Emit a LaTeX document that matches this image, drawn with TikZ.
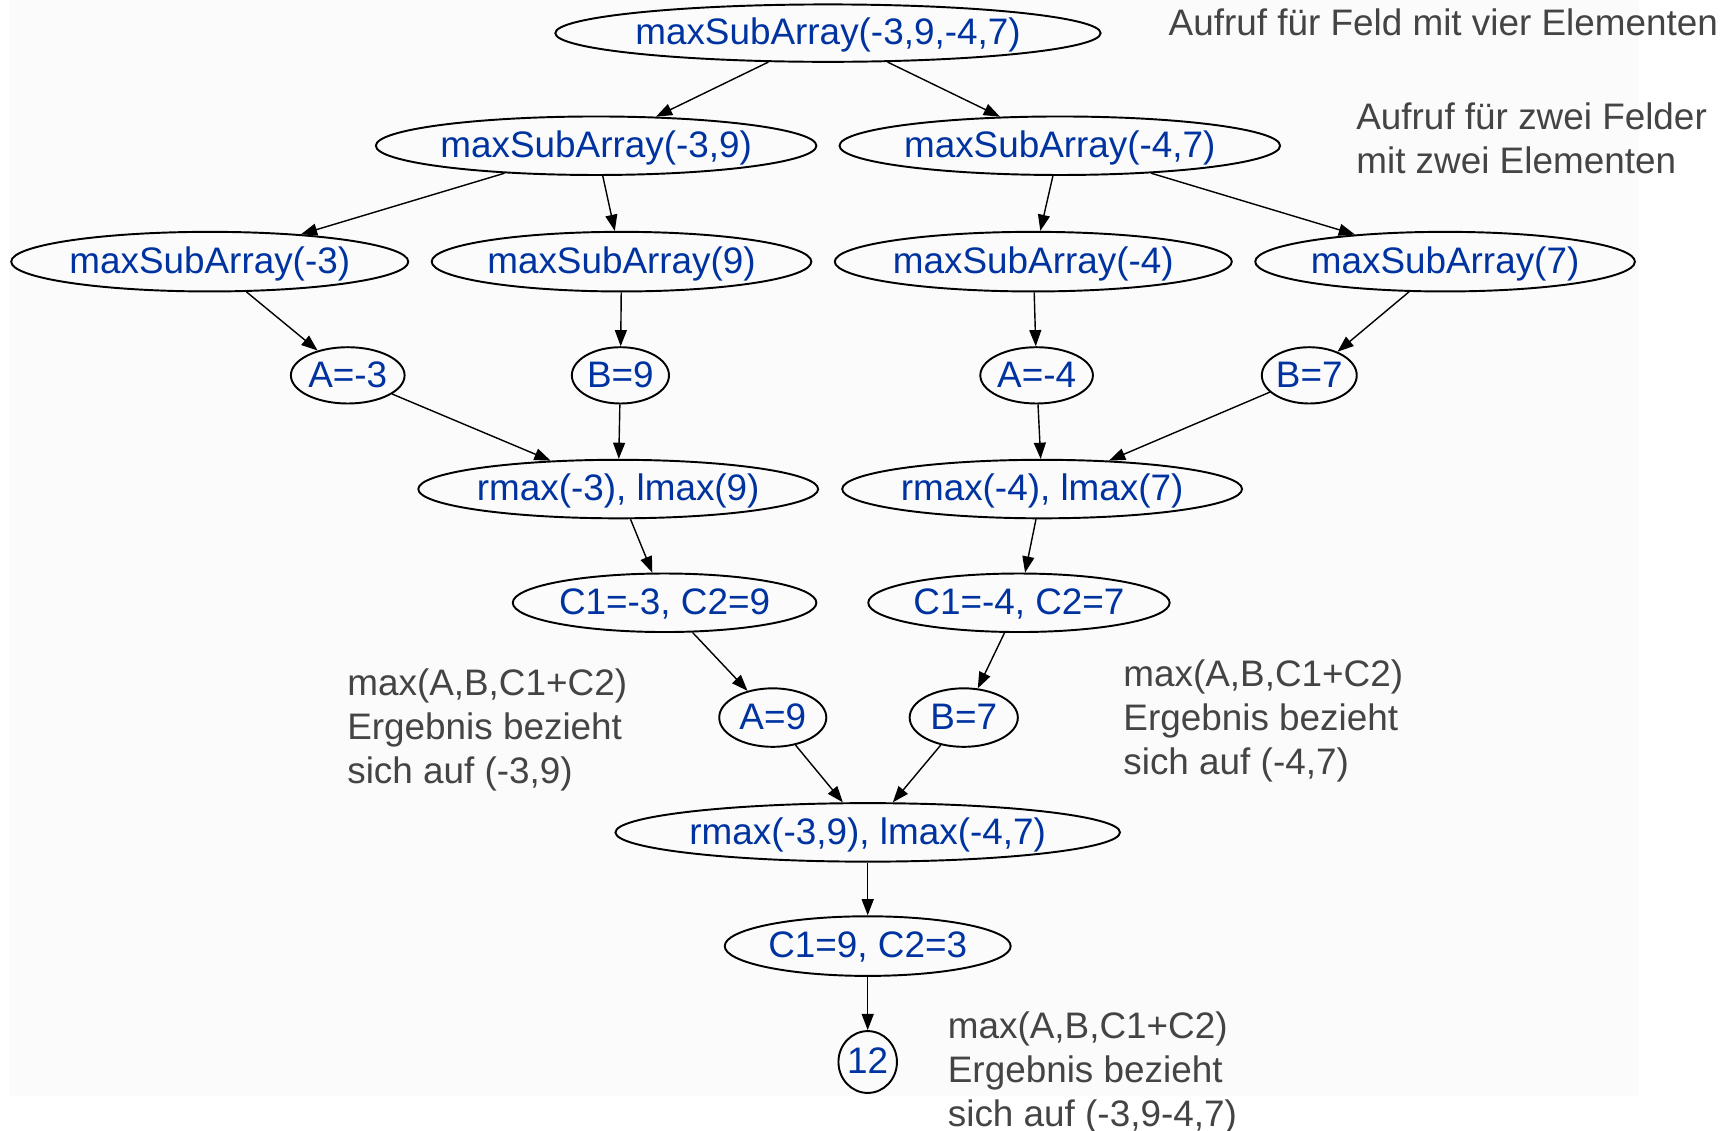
\documentclass[tikz,border=0pt]{standalone}
\usepackage{fontspec}
\setmainfont{Liberation Sans}
\usetikzlibrary{shapes.geometric,arrows.meta}
\definecolor{nodeblue}{RGB}{0,51,160}
\definecolor{notegray}{RGB}{68,68,68}
\definecolor{bgpaper}{RGB}{250,251,250}
\begin{document}
\begin{tikzpicture}[x=0.01104cm,y=-0.01104cm,
  ell/.style 2 args={ellipse, draw=black, line width=0.55pt, inner sep=0pt,
    minimum width=#1*0.01104cm, minimum height=#2*0.01104cm,
    text height=0.75em, text depth=0.08em,
    text=nodeblue, font=\fontsize{10.5}{12.6}\selectfont},
  arr/.style={draw=black, line width=0.4pt, -{Triangle[length=4.6pt,width=3.4pt]}},
  note/.style={inner sep=0pt, align=left, anchor=west, text=notegray,
    font=\fontsize{10.5}{12.6}\selectfont}]
\fill[white] (0,0) rectangle (1568,1024);
\useasboundingbox (0,0) rectangle (1568,1024);
\fill[bgpaper] (8,0) rectangle (1485,993);

% level 1
\node[ell={494}{52}] (top) at (750,30) {maxSubArray(-3,9,-4,7)};
% level 2
\node[ell={396}{53}] (l2a) at (540,132) {maxSubArray(-3,9)};
\node[ell={395}{53}] (l2b) at (960,132) {maxSubArray(-4,7)};
% level 3
\node[ell={355}{54}] (m3) at (190,237) {maxSubArray(-3)};
\node[ell={339}{54}] (m9) at (563,237) {maxSubArray(9)};
\node[ell={354}{54}] (m4) at (936,237) {maxSubArray(-4)};
\node[ell={339}{54}] (m7) at (1309,237) {maxSubArray(7)};
% level 4
\node[ell={103}{51}] (a3) at (315,340) {A=-3};
\node[ell={88}{51}] (b9) at (562,340) {B=9};
\node[ell={102}{51}] (a4) at (939,340) {A=-4};
\node[ell={86}{51}] (b7) at (1186,340) {B=7};
% level 5
\node[ell={359}{53}] (r1) at (560,443) {rmax(-3), lmax(9)};
\node[ell={359}{53}] (r2) at (944,443) {rmax(-4), lmax(7)};
% level 6
\node[ell={275}{53}] (c1) at (602,546) {C1=-3, C2=9};
\node[ell={273}{53}] (c2) at (923,546) {C1=-4, C2=7};
% level 7
\node[ell={97}{53}] (a9) at (700,650) {A=9};
\node[ell={98}{53}] (bb7) at (873,650) {B=7};
% level 8
\node[ell={457}{53}] (rr) at (786,754) {rmax(-3,9), lmax(-4,7)};
\node[ell={259}{54}] (cc) at (786,857) {C1=9, C2=3};
\node[ell={53}{56}] (res) at (786,962) {12};

% edges
\draw[arr] (top) -- (l2a);
\draw[arr] (top) -- (l2b);
\draw[arr] (l2a) -- (m3);
\draw[arr] (l2a) -- (m9);
\draw[arr] (l2b) -- (m4);
\draw[arr] (l2b) -- (m7);
\draw[arr] (m3) -- (a3);
\draw[arr] (m9) -- (b9);
\draw[arr] (m4) -- (a4);
\draw[arr] (m7) -- (b7);
\draw[arr] (a3) -- (r1);
\draw[arr] (b9) -- (r1);
\draw[arr] (a4) -- (r2);
\draw[arr] (b7) -- (r2);
\draw[arr] (r1) -- (c1);
\draw[arr] (r2) -- (c2);
\draw[arr] (c1) -- (a9);
\draw[arr] (c2) -- (bb7);
\draw[arr] (a9) -- (rr);
\draw[arr] (bb7) -- (rr);
\draw[arr] (rr) -- (cc);
\draw[arr] (cc) -- (res);

% notes
\node[note] (n1) at (1058,20) {Aufruf für Feld mit vier Elementen};
\node[note] (n2) at (1228,125) {Aufruf für zwei Felder\\mit zwei Elementen};
\node[note] (n3) at (314,661) {max(A,B,C1+C2)\\Ergebnis bezieht\\sich auf (-3,9)};
\node[note] (n4) at (1017,653) {max(A,B,C1+C2)\\Ergebnis bezieht\\sich auf (-4,7)};
\node[note] (n5) at (858,972) {max(A,B,C1+C2)\\Ergebnis bezieht\\sich auf (-3,9-4,7)};
\end{tikzpicture}
\end{document}
